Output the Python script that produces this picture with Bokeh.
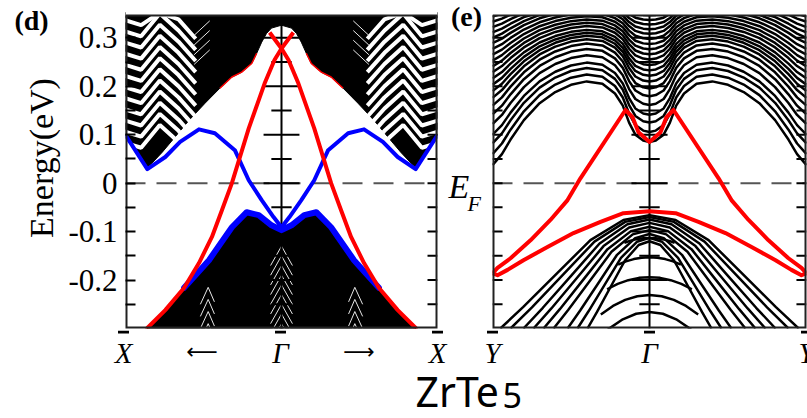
import math
from bokeh.plotting import figure
from bokeh.layouts import row, column
from bokeh.models import FixedTicker, Range1d, Span, BoxAnnotation
from bokeh.core.properties import value
from bokeh.embed import file_html
from bokeh.resources import INLINE

# ---------------- shared axis data ----------------
Y_MIN, Y_MAX = -0.3, 0.346
E_TICKS = [-0.2, -0.1, 0.0, 0.1, 0.2, 0.3]
E_TICK_LABELS = ["-0.2", "-0.1", "0", "0.1", "0.2", "0.3"]
E_MINOR = [-0.25, -0.15, -0.05, 0.05, 0.15, 0.25]
D_K_TICKS = [-1.0, 0.0, 1.0]
D_K_LABELS = ["X", "\u0393", "X"]
D_ARROW_K = [-0.5, 0.5]
D_ARROWS = ["\u27f5", "\u27f6"]
E_K_TICKS = [-1.0, 0.0, 1.0]
E_K_LABELS = ["Y", "\u0393", "Y"]

# ---------------- panel (d): X - Gamma - X (left half, mirror-symmetric) ----------------
d_cond_edge_k = [-1.0, -0.86, -0.764, -0.688, -0.592, -0.49, -0.395, -0.318, -0.255, -0.191, -0.159, -0.127, -0.096, -0.064, 0.0]
d_cond_edge_E = [0.099, 0.031, 0.064, 0.093, 0.130, 0.165, 0.196, 0.219, 0.229, 0.247, 0.268, 0.291, 0.309, 0.320, 0.326]
d_val_edge_k = [-0.87, -0.86, -0.745, -0.624, -0.465, -0.318, -0.223, -0.146, -0.064, 0.0]
d_val_edge_E = [-0.32, -0.299, -0.262, -0.216, -0.159, -0.091, -0.060, -0.066, -0.087, -0.097]
d_red_k = [-0.87, -0.86, -0.745, -0.624, -0.529, -0.446, -0.382, -0.318, -0.21, -0.108, -0.045, 0.0, 0.076]
d_red_E = [-0.32, -0.299, -0.262, -0.216, -0.165, -0.111, -0.056, 0.0, 0.113, 0.206, 0.254, 0.278, 0.311]
d_blue_k = [-1.0, -0.86, -0.745, -0.65, -0.529, -0.427, -0.299, -0.21, -0.127, -0.051, 0.0]
d_blue_E = [0.099, 0.029, 0.054, 0.085, 0.111, 0.103, 0.068, 0.006, -0.035, -0.070, -0.091]
# stripes inside the bulk continua
d_stripe_k = [-1.02, -0.9, -0.78, -0.66, -0.55]
d_stripe_dE = [0.0, -0.012, 0.035, 0.0, -0.04]
d_stripe_base = [0.085, 0.108, 0.131, 0.154, 0.177, 0.200, 0.223, 0.246, 0.269, 0.292, 0.315, 0.338]
d_fine_k = [-0.56, -0.46]
d_fine_E0 = [0.245, 0.265, 0.285, 0.305]
d_fine_E1 = [0.275, 0.295, 0.315, 0.335]
d_fish_k = [-0.07, 0.0, 0.07]
d_fish_dE = [-0.04, 0.0, -0.04]
d_fish_apex = [-0.13, -0.15, -0.17, -0.19, -0.21, -0.23, -0.25, -0.27, -0.29, -0.31]
d_side_k = [-0.52, -0.47, -0.43]
d_side_dE = [-0.035, 0.0, -0.03]
d_side_apex = [-0.215, -0.24, -0.265, -0.29, -0.315]

# ---------------- panel (e): Y - Gamma - Y (left half, mirror-symmetric) ----------------
e_cond_k = [-1.0, -0.94, -0.885, -0.8, -0.7, -0.6, -0.5, -0.4, -0.3, -0.22, -0.17, -0.13, -0.09, -0.04, 0.0]
e_cond_E = [0.037, 0.06, 0.09, 0.13, 0.165, 0.188, 0.203, 0.21, 0.205, 0.185, 0.16, 0.125, 0.1, 0.088, 0.085]
e_cond_base = [0.037, 0.06, 0.082, 0.1, 0.122, 0.142, 0.16, 0.176, 0.19, 0.203, 0.216, 0.229,
               0.241, 0.253, 0.265, 0.277, 0.289, 0.3, 0.311, 0.322, 0.333, 0.344]
e_cond_amp = [1.0, 0.95, 0.9, 0.86, 0.82, 0.78, 0.74, 0.7, 0.66, 0.62, 0.58, 0.55,
              0.52, 0.49, 0.46, 0.43, 0.4, 0.37, 0.34, 0.31, 0.28, 0.25]
e_val_top = [-0.066, -0.07, -0.075, -0.082, -0.09, -0.097, -0.105, -0.113, -0.12]
e_val_kbot = [0.95, 0.885, 0.803, 0.739, 0.675, 0.611, 0.522, 0.459, 0.395]
e_val_kfrac = [1.0, 0.846, 0.617, 0.396, 0.175, 0.0]
e_val_drop = [1.0, 0.81, 0.51, 0.22, 0.043, 0.0]
e_arc_top = [-0.113, -0.153, -0.194, -0.231, -0.266]
e_arc_halfk = [0.16, 0.2, 0.27, 0.31, 0.34]
e_arc_droop = [0.01, 0.015, 0.025, 0.04, 0.06]
e_arc_kfrac = [1.0, 0.75, 0.5, 0.25, 0.0]
e_arc_drop = [1.0, 0.56, 0.25, 0.06, 0.0]
e_red_up_k = [-1.0, -0.968, -0.885, -0.758, -0.631, -0.522, -0.44, -0.153, -0.108, -0.07, 0.0]
e_red_up_E = [-0.186, -0.175, -0.155, -0.118, -0.076, -0.035, 0.010, 0.151, 0.136, 0.105, 0.085]
e_red_lo_k = [-1.0, -0.968, -0.904, -0.803, -0.65, -0.484, -0.312, -0.166, 0.0]
e_red_lo_E = [-0.186, -0.190, -0.179, -0.159, -0.132, -0.103, -0.080, -0.062, -0.058]

SERIF = "Liberation Serif"
RED = "#ff0000"
BLUE = "#0000ff"
# layout in pixels
ROW1_H, BOTTOM_H = 330, 88
BOX_TOP_PX, BOX_H_PX = 15, 313
D_GAMMA_PX, E_GAMMA_PX, K_PX = 280, 649, 157
Y_TOP = Y_MAX + BOX_TOP_PX * (Y_MAX - Y_MIN) / BOX_H_PX   # frame starts at the top of the page
CLAMP = Y_MAX + 0.006                                      # nothing is drawn higher than this


def clamp(E):
    return [min(v, CLAMP) for v in E]


def mirror_line(k, E):
    k = list(k)
    E = list(E)
    if k[-1] == 0.0:
        return k + [-v for v in reversed(k[:-1])], E + list(reversed(E[:-1]))
    return k + [-v for v in reversed(k)], E + list(reversed(E))


def blank_fig(width, height, xr, yr, bottom=0):
    f = figure(width=width, height=height, x_range=xr, y_range=yr, output_backend="svg",
               toolbar_location=None, min_border=0, min_border_bottom=bottom,
               x_axis_location=None, y_axis_location=None, title=None)
    f.grid.visible = False
    f.outline_line_color = None
    f.background_fill_color = "white"
    f.border_fill_color = "white"
    return f


def make_panel(width, bl, br, with_axis):
    p = figure(width=width, height=ROW1_H, x_range=Range1d(-1, 1), y_range=Range1d(Y_MIN, Y_TOP),
               output_backend="svg", toolbar_location=None, x_axis_location=None,
               y_axis_location=("left" if with_axis else None), title=None,
               min_border_left=bl, min_border_right=br, min_border_top=0, min_border_bottom=2)
    p.grid.visible = False
    p.background_fill_color = "white"
    p.border_fill_color = "white"
    p.outline_line_color = None
    if with_axis:
        ya = p.yaxis[0]
        ya.ticker = FixedTicker(ticks=E_TICKS, minor_ticks=E_MINOR)
        ya.major_label_overrides = dict(zip(E_TICKS, E_TICK_LABELS))
        ya.major_tick_in = 10
        ya.major_tick_out = 0
        ya.minor_tick_in = 10
        ya.minor_tick_out = 0
        ya.major_tick_line_width = 2
        ya.minor_tick_line_width = 2
        ya.axis_line_color = None
        ya.major_label_text_font = SERIF
        ya.major_label_text_font_size = "31px"
        ya.major_label_text_color = "black"
        ya.major_label_standoff = 8
    return p


def frame_decor(p, left_ticks):
    p.add_layout(Span(location=0, dimension="width", line_color="#555555", line_width=2,
                      line_dash="20 11", level="underlay"))
    p.line([0, 0], [Y_MIN, Y_MAX], line_color="black", line_width=2)
    xs, ys = [], []
    for t in E_TICKS:
        xs.append([-0.115, 0.115]); ys.append([t, t])
    for t in E_MINOR:
        xs.append([-0.065, 0.065]); ys.append([t, t])
    for t in E_TICKS + E_MINOR:
        xs.append([1 - 0.064, 1.0]); ys.append([t, t])
        if left_ticks:
            xs.append([-1.0, -1 + 0.064]); ys.append([t, t])
    p.multi_line(xs, ys, line_color="black", line_width=2)


def close_box(p):
    # blank out everything above the plotting box, then draw the box
    p.add_layout(BoxAnnotation(bottom=Y_MAX, fill_color="white", fill_alpha=1.0,
                               line_color=None, level="annotation"))
    p.add_layout(Span(location=Y_MAX, dimension="width", line_color="#222222", line_width=2,
                      level="annotation"))
    p.line([-1.0, -1.0, 1.0, 1.0], [Y_MAX, Y_MIN, Y_MIN, Y_MAX], line_color="#222222", line_width=4)


# ---------------- panel (d) ----------------
pd_ = make_panel(382, 58, 10, True)
ck, cE = mirror_line(d_cond_edge_k, d_cond_edge_E)
pd_.patch(ck + [1.0, -1.0], cE + [CLAMP, CLAMP], color="black")
vk, vE = mirror_line(d_val_edge_k, d_val_edge_E)
pd_.patch(vk + [vk[-1], vk[0]], vE + [-0.5, -0.5], color="black")

sx, sy = [], []
for b in d_stripe_base:
    e = clamp([b + d for d in d_stripe_dE])
    sx.append(d_stripe_k); sy.append(e)
    sx.append([-v for v in d_stripe_k]); sy.append(e)
pd_.multi_line(sx, sy, line_color="white", line_width=4)

fx, fy = [], []
for e0, e1 in zip(d_fine_E0, d_fine_E1):
    fx.append(d_fine_k); fy.append([e0, e1])
    fx.append([-v for v in d_fine_k]); fy.append([e0, e1])
for a in d_fish_apex:
    fx.append(d_fish_k); fy.append([a + d for d in d_fish_dE])
for a in d_side_apex:
    e = [a + d for d in d_side_dE]
    fx.append(d_side_k); fy.append(e)
    fx.append([-v for v in d_side_k]); fy.append(e)
pd_.multi_line(fx, fy, line_color="#e8e8e8", line_width=1)

frame_decor(pd_, False)

rim_k = d_cond_edge_k[6:11]
rim_E = d_cond_edge_E[6:11]
pd_.multi_line([rim_k, [-v for v in rim_k]], [rim_E, rim_E], line_color=RED, line_width=1.5)
bk, bE = mirror_line(d_val_edge_k[3:], d_val_edge_E[3:])
pd_.line(bk, bE, line_color=BLUE, line_width=6, line_join="round", line_cap="round")
blk, blE = mirror_line(d_blue_k, d_blue_E)
pd_.line(blk, blE, line_color=BLUE, line_width=4, line_join="round")
pd_.multi_line([d_red_k, [-v for v in d_red_k]], [d_red_E, d_red_E], line_color=RED,
               line_width=4, line_join="round")
close_box(pd_)

# ---------------- panel (e) ----------------
pe_ = make_panel(316, 1, 1, False)
frame_decor(pe_, True)
cx, cy = [], []
for base, amp in zip(e_cond_base, e_cond_amp):
    kk, ee = mirror_line(e_cond_k, clamp([base + amp * (v - e_cond_E[0]) for v in e_cond_E]))
    cx.append(kk); cy.append(ee)
for top, kb in zip(e_val_top, e_val_kbot):
    kk = [-kb * f for f in e_val_kfrac]
    ee = [top - d * (top - Y_MIN) for d in e_val_drop]
    kk, ee = mirror_line(kk, ee)
    cx.append(kk); cy.append(ee)
for top, hk, dr in zip(e_arc_top, e_arc_halfk, e_arc_droop):
    kk = [-hk * f for f in e_arc_kfrac]
    ee = [top - dr * d for d in e_arc_drop]
    kk, ee = mirror_line(kk, ee)
    cx.append(kk); cy.append(ee)
pe_.multi_line(cx, cy, line_color="black", line_width=2.5, line_join="round")
uk, uE = mirror_line(e_red_up_k, e_red_up_E)
lk, lE = mirror_line(e_red_lo_k, e_red_lo_E)
pe_.multi_line([uk, lk], [uE, lE], line_color=RED, line_width=4, line_join="round")
close_box(pe_)

# ---------------- side text columns (y = pixels above the panel bottom border) ----------------
FH = ROW1_H - 2
fa = blank_fig(65, ROW1_H, Range1d(0, 65), Range1d(0, FH), bottom=2)
fa.text(x=[31], y=[FH - 19.5], text=["(d)"], text_font=value(SERIF), text_font_style=value("bold"),
        text_font_size=value("28px"), text_align="center", text_baseline="middle", text_color="black")
fa.text(x=[41], y=[FH - 157.5], text=["Energy(eV)"], text_font=value(SERIF),
        text_font_size=value("34px"), text_align="center", text_baseline="middle",
        angle=math.pi / 2, text_color="black")

fb = blank_fig(44, ROW1_H, Range1d(0, 44), Range1d(0, FH), bottom=2)
fb.text(x=[19], y=[FH - 15.5], text=["(e)"], text_font=value(SERIF), text_font_style=value("bold"),
        text_font_size=value("28px"), text_align="center", text_baseline="middle", text_color="black")
fb.text(x=[1], y=[FH - 185.5], text=["E"], text_font=value(SERIF), text_font_style=value("italic"),
        text_font_size=value("34px"), text_align="left", text_baseline="middle", text_color="black")
fb.text(x=[20], y=[FH - 202.5], text=["F"], text_font=value(SERIF), text_font_style=value("italic"),
        text_font_size=value("22px"), text_align="left", text_baseline="middle", text_color="black")

# ---------------- bottom strip: k-point labels (in panel-(d) k units) and caption ----------------
E_SHIFT = (E_GAMMA_PX - D_GAMMA_PX) / K_PX
bot = blank_fig(807, BOTTOM_H, Range1d((0 - D_GAMMA_PX) / K_PX, (807 - D_GAMMA_PX) / K_PX),
                Range1d(0, BOTTOM_H))
k_pos = D_K_TICKS + [k + E_SHIFT for k in E_K_TICKS]
bot.text(x=k_pos, y=[65.5] * len(k_pos), text=D_K_LABELS + E_K_LABELS, text_font=value(SERIF),
         text_font_style=value("italic"), text_font_size=value("29px"), text_align="center",
         text_baseline="middle", text_color="black")
bot.text(x=D_ARROW_K, y=[67] * 2, text=D_ARROWS, text_font=value("DejaVu Sans"),
         text_font_size=value("22px"), text_align="center", text_baseline="middle", text_color="black")
bot.segment(x0=[k - 0.035 for k in k_pos], x1=[k + 0.035 for k in k_pos],
            y0=[86.5] * len(k_pos), y1=[86.5] * len(k_pos), line_color="black", line_width=3)
bot.text(x=[(415 - D_GAMMA_PX) / K_PX], y=[28], text=["ZrTe"], text_font=value("Noto Sans"),
         text_font_size=value("41px"), text_align="left", text_baseline="middle", text_color="black")
bot.text(x=[(502 - D_GAMMA_PX) / K_PX], y=[23], text=["5"], text_font=value("Noto Sans"),
         text_font_size=value("34px"), text_align="left", text_baseline="middle", text_color="black")

layout = column(row(fa, pd_, fb, pe_, spacing=0), bot, spacing=0)
open("out.html", "w").write(file_html(layout, INLINE))
